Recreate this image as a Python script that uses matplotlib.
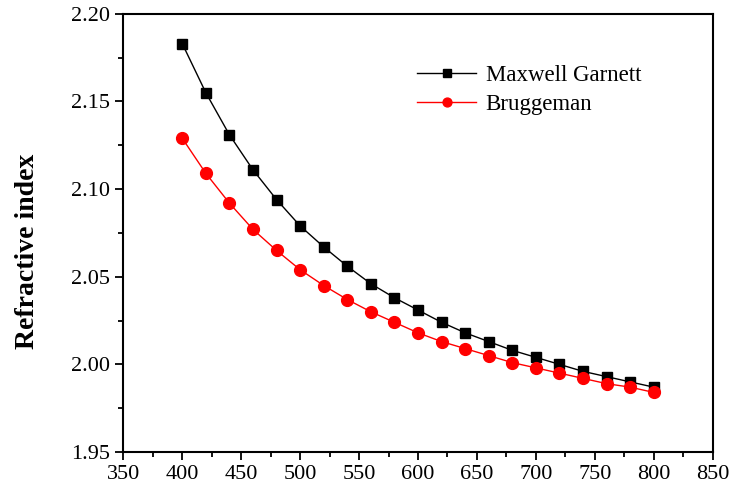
import numpy as np
import matplotlib.pyplot as plt
from matplotlib.ticker import MultipleLocator

plt.rcParams['font.family'] = ['Liberation Serif', 'DejaVu Serif']

wavelength = np.arange(400, 801, 20)
maxwell_garnett = [2.183, 2.155, 2.131, 2.111, 2.094, 2.079, 2.067, 2.056, 2.046, 2.038, 2.031,
                   2.024, 2.018, 2.013, 2.008, 2.004, 2.000, 1.996, 1.993, 1.990, 1.987]
bruggeman = [2.129, 2.109, 2.092, 2.077, 2.065, 2.054, 2.045, 2.037, 2.030, 2.024, 2.018,
             2.013, 2.009, 2.005, 2.001, 1.998, 1.995, 1.992, 1.989, 1.987, 1.984]

fig = plt.figure(figsize=(7.34, 4.94), dpi=100)
ax = fig.add_axes([0.168, 0.085, 0.803, 0.887])

ax.plot(wavelength, maxwell_garnett, color="black", marker="s", markersize=7.5,
        linewidth=1, label="Maxwell Garnett")
ax.plot(wavelength, bruggeman, color="red", marker="o", markersize=8.5,
        linewidth=1, label="Bruggeman")

ax.set_xlim(350, 850)
ax.set_ylim(1.95, 2.20)
ax.xaxis.set_major_locator(MultipleLocator(50))
ax.xaxis.set_minor_locator(MultipleLocator(25))
ax.yaxis.set_major_locator(MultipleLocator(0.05))
ax.yaxis.set_minor_locator(MultipleLocator(0.025))
ax.yaxis.set_major_formatter(plt.FormatStrFormatter('%.2f'))
ax.tick_params(which="major", direction="out", length=6, width=1.3, labelsize=16)
ax.tick_params(which="minor", direction="out", length=3.5, width=1.3)
for s in ax.spines.values():
    s.set_linewidth(1.5)

ax.set_ylabel("Refractive index", fontsize=20, fontweight="bold")
ax.yaxis.set_label_coords(-0.142, 0.457)
ax.legend(loc="upper left", bbox_to_anchor=(0.463, 0.93), frameon=False, fontsize=16.5,
          markerscale=0.75, handlelength=2.6, handletextpad=0.4, labelspacing=0.35)

fig.savefig("out.png", dpi=100)
